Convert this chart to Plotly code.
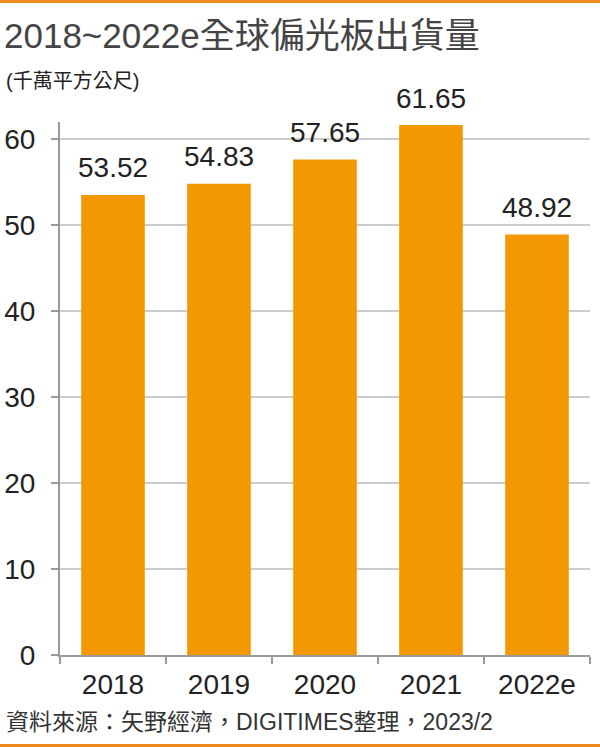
import plotly.graph_objects as go

categories = ["2018", "2019", "2020", "2021", "2022e"]
values = [53.52, 54.83, 57.65, 61.65, 48.92]
value_labels = ["53.52", "54.83", "57.65", "61.65", "48.92"]
y_ticks = [0, 10, 20, 30, 40, 50, 60]

title_num = "2018~2022e"
title_cjk = "全球偏光板出貨量"
subtitle = "(千萬平方公尺)"
footer = "資料來源：矢野經濟，DIGITIMES整理，2023/2"

W, H = 600, 747
ML, MR, MT, MB = 60, 10, 122, 92
PW, PH = W - ML - MR, H - MT - MB

def px_x(p):
    return (p - ML) / PW

def px_y(p):
    return (H - MB - p) / PH

FONT = "Liberation Sans, Arial, Noto Sans CJK TC, sans-serif"
ORANGE = "#f39800"

fig = go.Figure()
fig.add_trace(go.Bar(
    x=categories, y=values, marker=dict(color=ORANGE, line=dict(width=0)),
    hoverinfo="skip",
))

annotations = []
for i, (v, t) in enumerate(zip(values, value_labels)):
    annotations.append(dict(
        x=i, y=v, xref="x", yref="y", text=t, showarrow=False,
        yanchor="middle", yshift=27,
        font=dict(family=FONT, size=28, color="#222222"),
    ))

annotations.append(dict(
    x=px_x(4), y=px_y(81), xref="paper", yref="paper", xanchor="left", yanchor="middle",
    text=subtitle, showarrow=False, font=dict(family=FONT, size=20, color="#222222"),
))
annotations.append(dict(
    x=px_x(4), y=px_y(722), xref="paper", yref="paper", xanchor="left", yanchor="middle",
    text=footer, showarrow=False, font=dict(family=FONT, size=23, color="#333333"),
))

shapes = [
    dict(type="line", xref="paper", yref="paper", x0=px_x(0), x1=px_x(W), y0=px_y(1.5), y1=px_y(1.5),
         line=dict(color="#f08a1c", width=3)),
    dict(type="line", xref="paper", yref="paper", x0=px_x(0), x1=px_x(W), y0=px_y(745.5), y1=px_y(745.5),
         line=dict(color="#f08a1c", width=3)),
]

fig.update_layout(
    width=W, height=H,
    margin=dict(l=ML, r=MR, t=MT, b=MB, pad=0, autoexpand=False),
    paper_bgcolor="white", plot_bgcolor="white",
    showlegend=False,
    bargap=0.4,
    title=dict(
        text=title_num + title_cjk,
        xref="container", yref="container", x=4 / W, y=1 - 36 / H,
        xanchor="left", yanchor="middle",
        font=dict(family=FONT, size=35, color="#444444"),
        automargin=False,
    ),
    annotations=annotations,
    shapes=shapes,
    xaxis=dict(
        type="category", automargin=False,
        range=[-0.5, 4.5], showline=True, linecolor="#999999", linewidth=2,
        ticks="outside", tickson="boundaries", ticklen=7, tickwidth=2, tickcolor="#999999",
        showgrid=False, tickfont=dict(family=FONT, size=28, color="#222222"),
        ticklabelstandoff=3, fixedrange=True,
    ),
    yaxis=dict(
        automargin=False,
        range=[0, 62], tickvals=y_ticks, showline=True, linecolor="#999999", linewidth=2,
        ticks="outside", ticklen=7, tickwidth=2, tickcolor="#999999",
        showgrid=True, gridcolor="#cccccc", gridwidth=1.5, zeroline=False,
        tickfont=dict(family=FONT, size=28, color="#222222"),
        ticklabelstandoff=10, fixedrange=True,
    ),
)

fig.write_html("out.html")
